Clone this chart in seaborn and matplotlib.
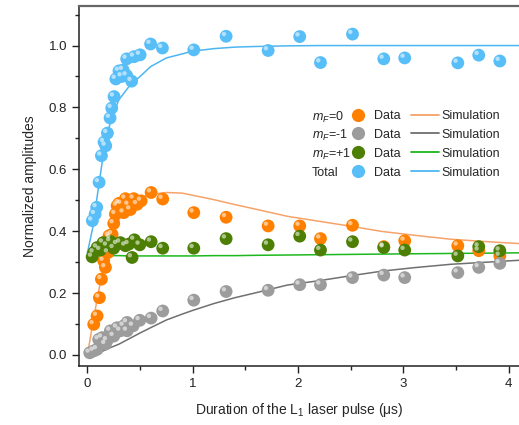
import numpy as np
import pandas as pd
import matplotlib
matplotlib.use("Agg")
import matplotlib.pyplot as plt
import matplotlib.transforms as mtransforms
from matplotlib.lines import Line2D
import seaborn as sns

tot_t = [0.047, 0.073, 0.088, 0.111, 0.133, 0.158, 0.174, 0.19, 0.215, 0.231, 0.253, 0.27, 0.30, 0.326, 0.339,
         0.373, 0.373, 0.42, 0.443, 0.50, 0.60, 0.712, 1.01, 1.317, 1.716, 2.016, 2.213, 2.517, 2.814, 3.013,
         3.517, 3.716, 3.916]
tot_y = [0.434, 0.455, 0.477, 0.558, 0.644, 0.688, 0.676, 0.717, 0.766, 0.798, 0.835, 0.892, 0.918, 0.90, 0.921,
         0.903, 0.957, 0.885, 0.964, 0.97, 1.005, 0.992, 0.986, 1.03, 0.984, 1.029, 0.945, 1.037, 0.957, 0.96,
         0.944, 0.969, 0.95]

m0_t = [0.06, 0.092, 0.114, 0.133, 0.155, 0.171, 0.196, 0.205, 0.218, 0.234, 0.25, 0.266, 0.282, 0.30, 0.323,
        0.345, 0.361, 0.39, 0.408, 0.44, 0.472, 0.51, 0.605, 0.715, 1.01, 1.317, 1.716, 2.016, 2.213, 2.517,
        2.814, 3.013, 3.517, 3.716, 3.916]
m0_y = [0.099, 0.126, 0.185, 0.245, 0.304, 0.283, 0.331, 0.385, 0.378, 0.39, 0.425, 0.455, 0.482, 0.49, 0.488,
        0.46, 0.505, 0.485, 0.47, 0.505, 0.487, 0.498, 0.525, 0.504, 0.46, 0.445, 0.417, 0.417, 0.376, 0.419,
        0.35, 0.369, 0.353, 0.337, 0.32]

m1_t = [0.022, 0.06, 0.092, 0.107, 0.14, 0.171, 0.187, 0.218, 0.25, 0.282, 0.313, 0.345, 0.377, 0.377, 0.434,
        0.497, 0.605, 0.715, 1.01, 1.317, 1.716, 2.016, 2.213, 2.517, 2.814, 3.013, 3.517, 3.716, 3.916]
m1_y = [0.007, 0.013, 0.018, 0.05, 0.056, 0.035, 0.047, 0.078, 0.061, 0.088, 0.078, 0.094, 0.078, 0.105, 0.094,
        0.112, 0.119, 0.142, 0.177, 0.205, 0.209, 0.227, 0.227, 0.25, 0.258, 0.25, 0.266, 0.283, 0.296]

p1_t = [0.045, 0.06, 0.092, 0.123, 0.149, 0.187, 0.218, 0.25, 0.282, 0.313, 0.361, 0.392, 0.424, 0.446, 0.497,
        0.605, 0.715, 1.01, 1.317, 1.716, 2.016, 2.213, 2.517, 2.814, 3.013, 3.517, 3.716, 3.916]
p1_y = [0.317, 0.331, 0.347, 0.339, 0.363, 0.353, 0.367, 0.345, 0.358, 0.363, 0.353, 0.358, 0.315, 0.372, 0.356,
        0.366, 0.345, 0.345, 0.376, 0.356, 0.384, 0.339, 0.366, 0.347, 0.339, 0.32, 0.35, 0.337]

# simulation curves
sim_t = [0, 0.05, 0.1, 0.15, 0.2, 0.25, 0.3, 0.4, 0.5, 0.6, 0.75, 0.9, 1.0, 1.2, 1.4, 1.6, 1.9, 2.2, 2.5, 2.8,
         3.1, 3.45, 3.8, 4.1]
sim_tot = [0.33, 0.41, 0.53, 0.645, 0.73, 0.785, 0.825, 0.87, 0.90, 0.932, 0.96, 0.973, 0.982, 0.99, 0.995,
           0.997, 0.999, 1.0, 1.0, 1.0, 1.0, 1.0, 1.0, 1.0]
sim_m0 = [0, 0.10, 0.195, 0.28, 0.35, 0.40, 0.438, 0.485, 0.508, 0.519, 0.525, 0.523, 0.516, 0.502, 0.486,
          0.471, 0.448, 0.432, 0.416, 0.399, 0.387, 0.374, 0.366, 0.36]
sim_m1 = [0, 0.002, 0.006, 0.013, 0.021, 0.028, 0.035, 0.053, 0.071, 0.088, 0.113, 0.132, 0.144, 0.166, 0.185,
          0.201, 0.226, 0.24, 0.256, 0.271, 0.282, 0.293, 0.300, 0.306]
sim_p1 = [0.333, 0.328, 0.325, 0.323, 0.322, 0.321, 0.321, 0.32, 0.32, 0.32, 0.32, 0.32, 0.32, 0.321, 0.321,
          0.322, 0.323, 0.324, 0.325, 0.326, 0.327, 0.328, 0.329, 0.33]

row_labels = ["$m_F$=0", "$m_F$=-1", "$m_F$=+1", "Total"]
dot_colors = ["#FF8000", "#9C9C9C", "#4D7F05", "#58BEF8"]
line_colors = ["#F5A36A", "#707070", "#1DB81D", "#4DB6F0"]

sns.set_style("ticks")
plt.rcParams["font.family"] = ["Liberation Sans", "DejaVu Sans"]
plt.rcParams["mathtext.fontset"] = "custom"
plt.rcParams["mathtext.rm"] = "Liberation Sans"
plt.rcParams["mathtext.it"] = "Liberation Sans:italic"

fig = plt.figure(figsize=(5.19, 4.25), dpi=100)
ax = fig.add_axes([0.152, 0.139, 0.848, 0.847])

sims = [sim_m0, sim_m1, sim_p1, sim_tot]
for sy, c in zip(sims, line_colors):
    sns.lineplot(x=sim_t, y=sy, color=c, lw=1.1, ax=ax, zorder=2, estimator=None, sort=False)

# spheres: base dot + small highlight
hl = ax.transData + mtransforms.ScaledTranslation(-1.6 / 72, 1.6 / 72, fig.dpi_scale_trans)
series = [(m0_t, m0_y), (m1_t, m1_y), (p1_t, p1_y), (tot_t, tot_y)]
for (tx, ty), c in zip(series, dot_colors):
    df = pd.DataFrame({"t": tx, "y": ty})
    sns.scatterplot(data=df, x="t", y="y", color=c, s=85, edgecolor="none", ax=ax, zorder=3)
    ax.scatter(df["t"], df["y"], s=10, color="white", alpha=0.55, edgecolor="none", transform=hl, zorder=4)

ax.set_xlim(-0.081, 4.098)
ax.set_ylim(-0.0355, 1.128)
ax.set_xticks([0, 1, 2, 3, 4])
ax.set_xticks(np.arange(0.5, 4.1, 1.0), minor=True)
ax.set_yticks([0.0, 0.2, 0.4, 0.6, 0.8, 1.0])
ax.set_yticks(np.arange(0.1, 1.15, 0.2), minor=True)
ax.set_yticklabels(["0.0", "0.2", "0.4", "0.6", "0.8", "1.0"])
ax.tick_params(axis="both", which="major", direction="out", length=5, width=1, labelsize=9.5, colors="#222222")
ax.tick_params(axis="both", which="minor", direction="out", length=3, width=1, colors="#222222")
for s in ["left", "bottom"]:
    ax.spines[s].set_color("#222222")
    ax.spines[s].set_linewidth(1.1)
ax.spines["top"].set_color("#666666")
ax.spines["top"].set_linewidth(1.6)
ax.spines["right"].set_visible(False)

ax.set_xlabel("Duration of the L$_1$ laser pulse (\u03bcs)", fontsize=10, labelpad=8)
ax.set_ylabel("Normalized amplitudes", fontsize=10, labelpad=8)

# legend: data column + simulation column, row names as text
dots = [Line2D([], [], linestyle="none", marker="o", markersize=9.5, color=c, markeredgecolor="none")
        for c in dot_colors]
lines = [Line2D([], [], color=c, lw=1.3) for c in line_colors]
ax.legend(dots + lines, ["Data"] * 4 + ["Simulation"] * 4, ncol=2, frameon=False, fontsize=9,
          handlelength=2.24, handletextpad=0.2, columnspacing=0.8, labelspacing=0.55,
          borderpad=0, borderaxespad=0, loc="upper left", bbox_to_anchor=(0.602, 0.711))

row_y = [0.691, 0.640, 0.588, 0.5365]
for lab, yy in zip(row_labels, row_y):
    ax.text(0.5295, yy, lab, transform=ax.transAxes, fontsize=9, ha="left", va="center")

fig.savefig("out.png", dpi=100)
